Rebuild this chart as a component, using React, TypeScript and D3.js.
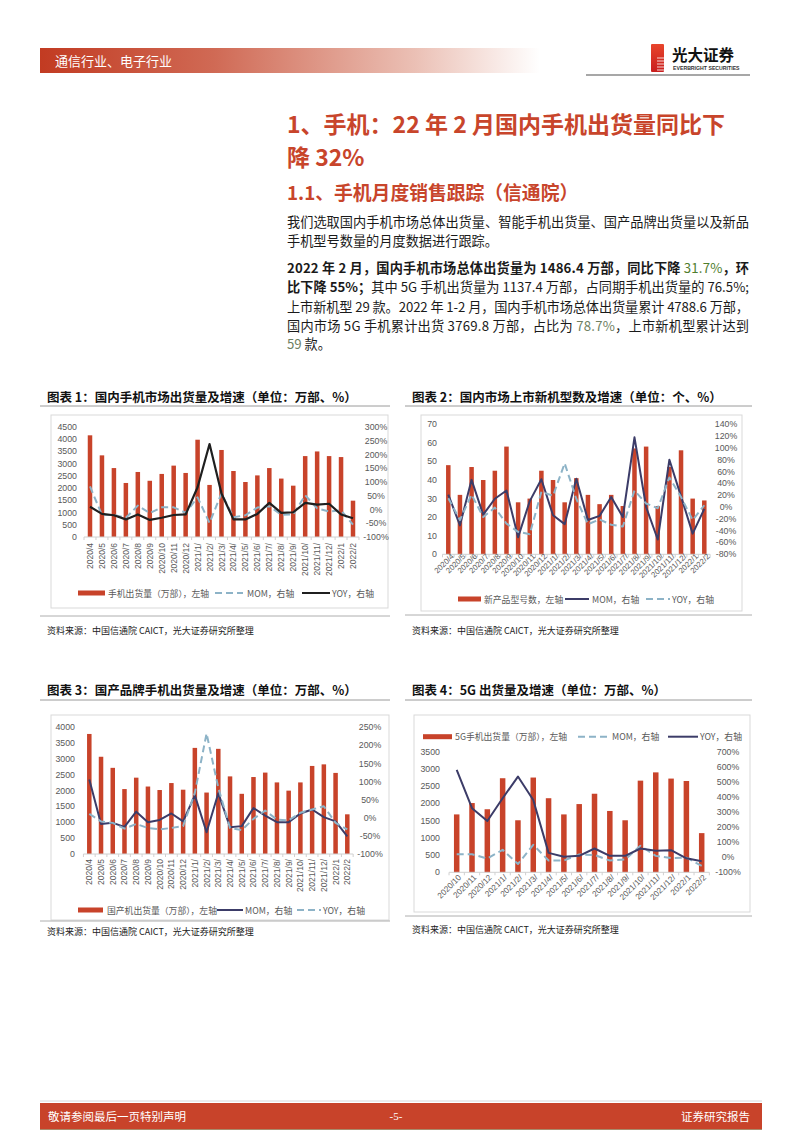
import React from 'react';
import * as d3 from 'd3';

const RED = '#c8432a';
const NAVY = '#3c3c68';
const LBLUE = '#8db3c7';
const BLACK = '#1f1f1f';
const AXIS_TXT = '#595959';
const CJK = '"Noto Sans CJK SC","Noto Sans",sans-serif';
const NUM = '"Liberation Sans",Arial,sans-serif';

// ---------- data ----------
const months23 = ['2020/4', '2020/5', '2020/6', '2020/7', '2020/8', '2020/9', '2020/10', '2020/11', '2020/12',
  '2021/1/', '2021/2/', '2021/3/', '2021/4/', '2021/5/', '2021/6/', '2021/7/', '2021/8/', '2021/9/', '2021/10/',
  '2021/11/', '2021/12/', '2022/1', '2022/2'];
const months17 = ['2020/10', '2020/11', '2020/12', '2021/1/', '2021/2/', '2021/3/', '2021/4/', '2021/5/', '2021/6/',
  '2021/7/', '2021/8/', '2021/9/', '2021/10/', '2021/11/', '2021/12/', '2022/1', '2022/2'];

// Chart 1: 手机出货量 (万部), MOM %, YOY %
const ship1 = [4160, 3340, 2820, 2210, 2660, 2300, 2580, 2920, 2620, 3980, 2130, 3560, 2700, 2250, 2520, 2820, 2390, 2100, 3310, 3500, 3310, 3270, 1486];
const mom1 = [84, -20, -20, -30, 14, -13, 8, 8, -12, 44, -49, 59, -28, -21, 7, 12, -19, -18, 52, 4, -7, -3, -55];
const yoy1 = [10, -16, -21, -36, -18, -38, -30, -20, -18, 81, 238, 58, -36, -36, -16, 24, -12, -10, 24, 18, 21, -18, -32];

// Chart 2: 新产品型号数, MOM %, YOY %
const new2 = [48, 32, 47, 40, 45, 58, 28, 30, 45, 40, 28, 41, 32, 27, 32, 26, 57, 58, 26, 47, 56, 30, 29];
const mom2 = [21, -31, 46, -13, 14, 28, -51, 10, 47, -14, -29, 48, -22, -15, 17, -17, 118, 0, -55, 80, 18, -45, -3];
const yoy2 = [15, -22, 21, -17, -1, -28, -42, -46, 26, 19, 74, 14, -29, -21, -30, -33, 28, 6, -2, 50, 17, -22, 3];

// Chart 3: 国产机出货量 (万部), MOM %, YOY %
const dom3 = [3790, 3070, 2720, 2050, 2410, 2130, 2020, 2240, 2030, 3350, 1940, 3320, 2450, 1900, 2430, 2570, 2260, 2000, 2260, 2780, 2830, 2560, 1253];
const mom3 = [106, -17, -14, -25, 17, -12, -6, 12, -10, 62, -40, 68, -26, -23, 27, 6, -12, -12, 12, 23, 2, -10, -51];
const yoy3 = [11, -10, -14, -30, -17, -28, -32, -28, -23, 69, 233, 83, -28, -34, -3, 20, -5, -7, 14, 23, 32, -14, -32];

// Chart 4: 5G手机出货量 (万部), MOM %, YOY %
const g5 = [1680, 2010, 1830, 2730, 1510, 2750, 2150, 1680, 1980, 2280, 1780, 1510, 2660, 2900, 2720, 2650, 1137];
const mom4 = [20, 20, -9, 49, -45, 82, -22, -22, 18, 15, -22, -15, 76, 9, -6, -3, -57];
const yoy4 = [579, 325, 240, 391, 535, 380, 29, 3, 9, 58, 9, 9, 58, 43, 47, -7, -27];

// ---------- generic combo chart ----------
type LineSpec = { values: number[]; color: string; width: number; dash?: string };
type Leg = { kind: 'bar' | 'line'; x1: number; x2: number; tx: number; label: string; color: string; dash?: string };
type Props = {
  cats: string[]; bars: number[]; barW: number;
  xFirst: number; xLast: number; y0: number; y1: number;
  leftMax: number; leftStep: number; leftX: number;
  rightMin: number; rightMax: number; rightStep: number; rightX: number;
  lines: LineSpec[]; rot: number; labelY: number; labelDx: number; labelSize: number;
  legY: number; legend: Leg[];
};

function Combo(p: Props) {
  const x = d3.scalePoint<string>().domain(p.cats).range([p.xFirst, p.xLast]);
  const step = x.step();
  const yL = d3.scaleLinear().domain([0, p.leftMax]).range([p.y0, p.y1]);
  const yR = d3.scaleLinear().domain([p.rightMin, p.rightMax]).range([p.y0, p.y1]);
  const lt = d3.range(0, p.leftMax + 1e-6, p.leftStep);
  const rt = d3.range(p.rightMin, p.rightMax + 1e-6, p.rightStep);
  const gen = d3.line<number>().x((_, i) => x(p.cats[i]) as number).y((v) => yR(v));
  const xa = p.xFirst - step / 2;
  const xb = p.xLast + step / 2;
  return (
    <g>
      {lt.map((v) => (
        <text key={'l' + v} x={p.leftX} y={yL(v)} textAnchor="end" dominantBaseline="central"
          fontSize={8.8} fill={AXIS_TXT} fontFamily={NUM}>{v}</text>
      ))}
      {rt.map((v) => (
        <text key={'r' + v} x={p.rightX} y={yR(v)} textAnchor="middle" dominantBaseline="central"
          fontSize={8.8} fill={AXIS_TXT} fontFamily={NUM}>{v}%</text>
      ))}
      {p.bars.map((v, i) => (
        <rect key={'b' + i} x={(x(p.cats[i]) as number) - p.barW / 2} y={yL(v)} width={p.barW}
          height={p.y0 - yL(v)} fill={RED} />
      ))}
      <line x1={xa} x2={xb} y1={p.y0} y2={p.y0} stroke="#d0d0d0" strokeWidth={1} />
      {d3.range(p.cats.length + 1).map((i) => (
        <line key={'t' + i} x1={xa + i * step} x2={xa + i * step} y1={p.y0} y2={p.y0 + 3} stroke="#d0d0d0" />
      ))}
      {p.lines.map((l, k) => (
        <path key={'p' + k} d={gen(l.values) || ''} fill="none" stroke={l.color} strokeWidth={l.width}
          strokeDasharray={l.dash} strokeLinejoin="round" />
      ))}
      {p.cats.map((c, i) => (
        <text key={'x' + i} transform={`translate(${(x(c) as number) + p.labelDx},${p.labelY}) rotate(${p.rot})`}
          textAnchor="end" fontSize={p.labelSize} fill={AXIS_TXT} fontFamily={NUM}>{c}</text>
      ))}
      {p.legend.map((g, i) => (
        <g key={'g' + i}>
          {g.kind === 'bar'
            ? <rect x={g.x1} y={p.legY - 2.5} width={g.x2 - g.x1} height={5} fill={g.color} />
            : <line x1={g.x1} x2={g.x2} y1={p.legY} y2={p.legY} stroke={g.color} strokeWidth={2} strokeDasharray={g.dash} />}
          <text x={g.tx} y={p.legY} dominantBaseline="central" fontSize={8.8} fill={AXIS_TXT} fontFamily={CJK}>{g.label}</text>
        </g>
      ))}
    </g>
  );
}

function Frame({ x0, x1, title, titleY, lineY, box, srcLineY, srcY }:
  { x0: number; x1: number; title: string; titleY: number; lineY: number; box: [number, number, number, number]; srcLineY: number; srcY: number }) {
  return (
    <g>
      <text x={x0 + 7} y={titleY} dominantBaseline="central" fontSize={12.5} fontWeight="bold" fill="#111" fontFamily={CJK}>{title}</text>
      <line x1={x0} x2={x1} y1={lineY} y2={lineY} stroke="#9a9a9a" strokeWidth={1} />
      <rect x={box[0]} y={box[1]} width={box[2] - box[0]} height={box[3] - box[1]} fill="none" stroke="#d9d9d9" />
      <line x1={x0} x2={x1} y1={srcLineY} y2={srcLineY} stroke="#9a9a9a" strokeWidth={0.8} />
      <text x={x0 + 7} y={srcY} dominantBaseline="central" fontSize={9} fill="#222" fontFamily={CJK}>资料来源：中国信通院 CAICT，光大证券研究所整理</text>
    </g>
  );
}

type Seg = { t: string; b?: boolean; c?: string };
const GREEN = '#4f7d2e';
const GREY = '#6f7f62';

function TLine({ y, segs, justify }: { y: number; segs: Seg[]; justify?: boolean }) {
  return (
    <text x={287} y={y} dominantBaseline="central" fontSize={13.2} fontFamily={CJK} fill="#1a1a1a"
      style={{ whiteSpace: 'pre' }} {...(justify ? { textLength: 462, lengthAdjust: 'spacing' } : {})}>
      {segs.map((s, i) => (
        <tspan key={i} fontWeight={s.b ? 'bold' : 'normal'} fill={s.c || '#1a1a1a'}>{s.t}</tspan>
      ))}
    </text>
  );
}

export default function App() {
  return (
    <svg width={802} height={1133} style={{ position: 'absolute', left: 0, top: 0, background: '#fff' }}>
      <defs>
        <linearGradient id="hdr" x1="0" x2="1" y1="0" y2="0">
          <stop offset="0" stopColor="#c23b22" />
          <stop offset="0.35" stopColor="#d06a55" />
          <stop offset="0.75" stopColor="#ebc0b5" />
          <stop offset="1" stopColor="#ffffff" />
        </linearGradient>
        <linearGradient id="logo" x1="0" x2="0" y1="0" y2="1">
          <stop offset="0" stopColor="#e8452c" />
          <stop offset="1" stopColor="#c81e1e" />
        </linearGradient>
      </defs>
      <rect x={0} y={0} width={802} height={1133} fill="#fff" />

      {/* header */}
      <rect x={40} y={48} width={500} height={25} fill="url(#hdr)" />
      <text x={55} y={60.5} dominantBaseline="central" fontSize={13} fill="#fff" fontFamily={CJK}>通信行业、电子行业</text>
      <rect x={651} y={44} width={13} height={28} fill="url(#logo)" rx={1} />
      {[58, 61, 64, 67, 70].map((yy) => (
        <line key={yy} x1={657} x2={664} y1={yy} y2={yy} stroke="#fff" strokeWidth={0.8} />
      ))}
      <text x={672} y={54} dominantBaseline="central" fontSize={15.5} fontWeight="bold" fill="#111" fontFamily={CJK}>光大证券</text>
      <text x={673} y={68} dominantBaseline="central" fontSize={5.2} fontWeight="bold" fill="#333" fontFamily={NUM}>EVERBRIGHT SECURITIES</text>
      <line x1={586} x2={750} y1={75} y2={75} stroke="#8a8a8a" strokeWidth={1.5} />

      {/* headings */}
      <text x={287} y={123} dominantBaseline="central" fontSize={23} fontWeight="bold" fill="#c8452b" fontFamily={CJK}>1、手机：22 年 2 月国内手机出货量同比下</text>
      <text x={287} y={156} dominantBaseline="central" fontSize={23} fontWeight="bold" fill="#c8452b" fontFamily={CJK}>降 32%</text>
      <text x={287} y={191} dominantBaseline="central" fontSize={18.8} fontWeight="bold" fill="#c8452b" fontFamily={CJK}>1.1、手机月度销售跟踪（信通院）</text>

      {/* paragraphs */}
      <TLine y={221} justify segs={[{ t: '我们选取国内手机市场总体出货量、智能手机出货量、国产品牌出货量以及新品' }]} />
      <TLine y={240} segs={[{ t: '手机型号数量的月度数据进行跟踪。' }]} />
      <TLine y={267} justify segs={[{ t: '2022 年 2 月，国内手机市场总体出货量为 1486.4 万部，同比下降 ', b: true }, { t: '31.7%', c: GREEN }, { t: '，环', b: true }]} />
      <TLine y={286} justify segs={[{ t: '比下降 55%；', b: true }, { t: '其中 5G 手机出货量为 1137.4 万部，占同期手机出货量的 76.5%;' }]} />
      <TLine y={305.5} justify segs={[{ t: '上市新机型 29 款。2022 年 1-2 月，国内手机市场总体出货量累计 4788.6 万部，' }]} />
      <TLine y={325} justify segs={[{ t: '国内市场 5G 手机累计出货 3769.8 万部，占比为 ' }, { t: '78.7%', c: GREY }, { t: '，上市新机型累计达到' }]} />
      <TLine y={343} segs={[{ t: '59', c: GREY }, { t: ' 款。' }]} />

      {/* chart 1 */}
      <Frame x0={40} x1={390} title="图表 1：国内手机市场出货量及增速（单位：万部、%）" titleY={396} lineY={406}
        box={[51, 415, 388, 608]} srcLineY={616} srcY={630} />
      <Combo cats={months23} bars={ship1} barW={4.5} xFirst={90} xLast={353} y0={537} y1={427}
        leftMax={4500} leftStep={500} leftX={77} rightMin={-100} rightMax={300} rightStep={50} rightX={376}
        lines={[{ values: mom1, color: LBLUE, width: 2, dash: '7,4' }, { values: yoy1, color: BLACK, width: 2.2 }]}
        rot={-90} labelY={543} labelDx={3} labelSize={8.5} legY={593}
        legend={[
          { kind: 'bar', x1: 78, x2: 105, tx: 108, label: '手机出货量（万部），左轴', color: RED },
          { kind: 'line', x1: 215, x2: 243, tx: 247, label: 'MOM，右轴', color: LBLUE, dash: '7,4' },
          { kind: 'line', x1: 302, x2: 330, tx: 332, label: 'YOY，右轴', color: BLACK },
        ]} />

      {/* chart 2 */}
      <Frame x0={405} x1={752} title="图表 2：国内市场上市新机型数及增速（单位：个、%）" titleY={396} lineY={406}
        box={[421, 415, 742, 611]} srcLineY={615} srcY={630} />
      <Combo cats={months23} bars={new2} barW={4.5} xFirst={448.3} xLast={704.3} y0={554.3} y1={424.3}
        leftMax={70} leftStep={10} leftX={437} rightMin={-80} rightMax={140} rightStep={20} rightX={726}
        lines={[{ values: mom2, color: NAVY, width: 2 }, { values: yoy2, color: LBLUE, width: 2, dash: '7,4' }]}
        rot={-45} labelY={557} labelDx={6} labelSize={7.8} legY={599}
        legend={[
          { kind: 'bar', x1: 458, x2: 481, tx: 484, label: '新产品型号数，左轴', color: RED },
          { kind: 'line', x1: 565, x2: 589, tx: 592, label: 'MOM，右轴', color: NAVY },
          { kind: 'line', x1: 646, x2: 670, tx: 672, label: 'YOY，右轴', color: LBLUE, dash: '7,4' },
        ]} />

      {/* chart 3 */}
      <Frame x0={40} x1={390} title="图表 3：国产品牌手机出货量及增速（单位：万部、%）" titleY={689} lineY={700}
        box={[51, 715, 389, 920]} srcLineY={921} srcY={931} />
      <Combo cats={months23} bars={dom3} barW={4.5} xFirst={89.3} xLast={347.3} y0={854} y1={727.3}
        leftMax={4000} leftStep={500} leftX={75} rightMin={-100} rightMax={250} rightStep={50} rightX={370}
        lines={[{ values: mom3, color: NAVY, width: 2 }, { values: yoy3, color: LBLUE, width: 2, dash: '7,4' }]}
        rot={-90} labelY={859} labelDx={3} labelSize={8.5} legY={910}
        legend={[
          { kind: 'bar', x1: 78, x2: 103, tx: 107, label: '国产机出货量（万部），左轴', color: RED },
          { kind: 'line', x1: 217, x2: 243, tx: 245, label: 'MOM，右轴', color: NAVY },
          { kind: 'line', x1: 297, x2: 321, tx: 323, label: 'YOY，右轴', color: LBLUE, dash: '7,4' },
        ]} />

      {/* chart 4 */}
      <Frame x0={405} x1={752} title="图表 4：5G 出货量及增速（单位：万部、%）" titleY={689} lineY={700}
        box={[414, 715, 750, 912]} srcLineY={916} srcY={929} />
      <Combo cats={months17} bars={g5} barW={5.5} xFirst={456.7} xLast={701.7} y0={872.3} y1={751.7}
        leftMax={3500} leftStep={500} leftX={440} rightMin={-100} rightMax={700} rightStep={100} rightX={728}
        lines={[{ values: mom4, color: LBLUE, width: 2, dash: '7,4' }, { values: yoy4, color: NAVY, width: 2 }]}
        rot={-45} labelY={878} labelDx={5} labelSize={8.2} legY={736.7}
        legend={[
          { kind: 'bar', x1: 423, x2: 452, tx: 455, label: '5G手机出货量（万部），左轴', color: RED },
          { kind: 'line', x1: 578, x2: 608, tx: 612, label: 'MOM，右轴', color: LBLUE, dash: '7,4' },
          { kind: 'line', x1: 668, x2: 698, tx: 700, label: 'YOY，右轴', color: NAVY },
        ]} />

      {/* footer */}
      <line x1={40} x2={762} y1={1101} y2={1101} stroke="#d8d8d8" strokeWidth={1} />
      <rect x={40} y={1103} width={722} height={26} fill="#c8432a" />
      <line x1={40} x2={762} y1={1129.5} y2={1129.5} stroke="#a98b6a" strokeWidth={1} />
      <text x={48} y={1116} dominantBaseline="central" fontSize={11.5} fill="#fff" fontFamily={CJK}>敬请参阅最后一页特别声明</text>
      <text x={396} y={1116} dominantBaseline="central" textAnchor="middle" fontSize={11} fill="#fff" fontFamily="'Liberation Serif',serif">-5-</text>
      <text x={750} y={1116} dominantBaseline="central" textAnchor="end" fontSize={11.5} fill="#fff" fontFamily={CJK}>证券研究报告</text>
    </svg>
  );
}
